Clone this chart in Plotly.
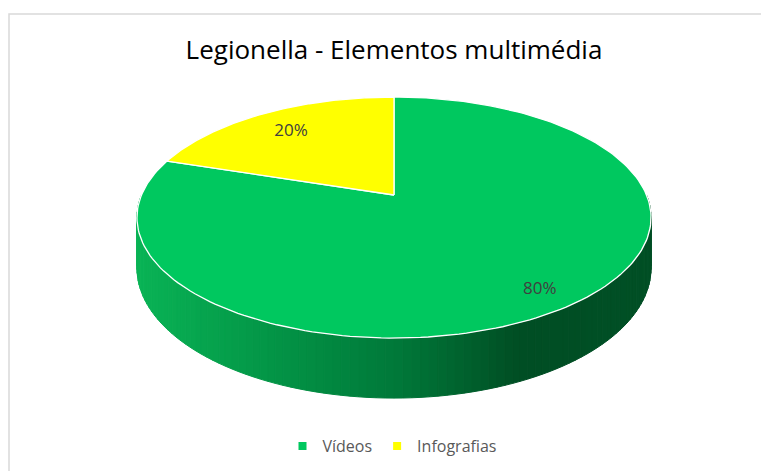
import numpy as np
import plotly.graph_objects as go

# données
labels = ["Vídeos", "Infografias"]
values = [80, 20]
colors = ["#00C85F", "#FFFF00"]
title_text = "Legionella - Elementos multimédia"

W, H = 769, 471
off = 8  # marge du <body> dans la page

# géométrie du camembert 3D (pixels, repère de la figure)
cx, cy = 394 - off, 195 - off
rx, ry = 252.5, 116.3
tilt = 0.187      # perspective
depth = 48.8      # épaisseur


def project(t, r=1.0, drop=0.0):
    X = r * np.cos(t)
    Y = r * np.sin(t)
    w = 1 + tilt * Y
    return cx + rx * X / w, cy - ry * Y / w + drop / w


def side_color(x):
    stops_x = [137 - off, 260 - off, 394 - off, 520 - off, 652 - off]
    r = np.interp(x, stops_x, [10, 4, 0, 0, 0])
    g = np.interp(x, stops_x, [180, 152, 122, 78, 80])
    b = np.interp(x, stops_x, [86, 72, 58, 36, 38])
    return "rgb(%d,%d,%d)" % (r, g, b)


total = sum(values)
starts, ends = [], []
a = np.pi / 2
for v in values:
    starts.append(a)
    a = a - 2 * np.pi * v / total
    ends.append(a)

fig = go.Figure()

# paroi latérale (face avant seulement)
for i in range(len(values)):
    lo, hi = ends[i], starts[i]
    for k in (-2, 0, 2):
        f0 = max(lo, -np.pi + k * np.pi)
        f1 = min(hi, 0 + k * np.pi)
        if f1 <= f0:
            continue
        n = max(2, int((f1 - f0) / np.pi * 110))
        ts = np.linspace(f0, f1, n + 1)
        for j in range(n):
            t0, t1 = ts[j], ts[j + 1]
            xa, ya = project(t0)
            xb, yb = project(t1)
            xc, yc = project(t1, drop=depth)
            xd, yd = project(t0, drop=depth)
            col = side_color((xa + xb) / 2)
            fig.add_trace(go.Scatter(
                x=[xa, xb, xc, xd, xa], y=[ya, yb, yc, yd, ya],
                mode="lines", fill="toself", fillcolor=col,
                line=dict(color=col, width=1),
                hoverinfo="skip", showlegend=False))

# face supérieure
for i in range(len(values)):
    ts = np.linspace(starts[i], ends[i], 200)
    px_, py_ = project(ts)
    xs = np.concatenate([[cx], px_, [cx]])
    ys = np.concatenate([[cy], py_, [cy]])
    fig.add_trace(go.Scatter(
        x=xs, y=ys, mode="lines", fill="toself", fillcolor=colors[i],
        line=dict(color="white", width=1.3),
        hoverinfo="skip", showlegend=False))

# étiquettes de pourcentage
lx, ly, lt = [], [], []
for i in range(len(values)):
    mid = (starts[i] + ends[i]) / 2
    x, y = project(mid, r=0.815 - 0.05 * np.sin(mid))
    lx.append(x)
    ly.append(y + 2)
    lt.append("%d%%" % round(100 * values[i] / total))
fig.add_trace(go.Scatter(
    x=lx, y=ly, text=lt, mode="text",
    textfont=dict(family="Open Sans", size=17, color="#404040"),
    hoverinfo="skip", showlegend=False))

# légende
for i in range(len(values)):
    fig.add_trace(go.Scatter(
        x=[None], y=[None], mode="markers", name=labels[i],
        marker=dict(symbol="square", size=8, color=colors[i])))

fig.update_layout(
    width=W, height=H,
    margin=dict(l=0, r=0, t=0, b=0),
    paper_bgcolor="white", plot_bgcolor="white",
    title=dict(text=title_text, x=(394 - off) / W, xanchor="center",
               y=1 - (50 - off) / H, yanchor="middle",
               font=dict(family="Open Sans", size=26, color="#000000")),
    xaxis=dict(range=[0, W], visible=False, fixedrange=True),
    yaxis=dict(range=[H, 0], visible=False, fixedrange=True),
    legend=dict(orientation="h", x=(392 - off) / W, xanchor="center",
                y=1 - (446 - off) / H, yanchor="middle",
                font=dict(family="Open Sans", size=16, color="#595959"),
                itemclick=False, itemdoubleclick=False),
    shapes=[dict(type="rect", xref="paper", yref="paper",
                 x0=1 / W, x1=1.05, y0=-0.05, y1=1 - 6 / H,
                 line=dict(color="#d9d9d9", width=1.5))],
)

fig.write_html("out.html")
